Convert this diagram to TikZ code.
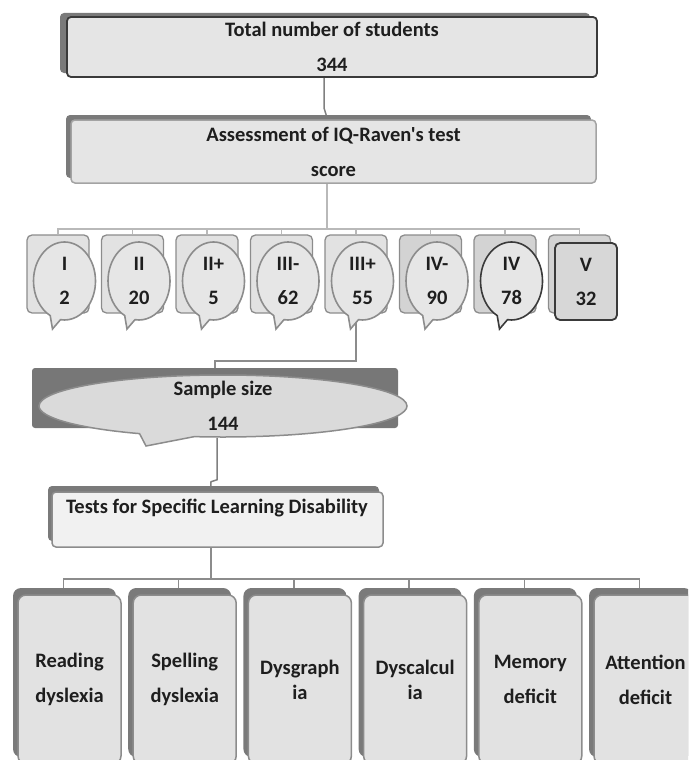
\documentclass[tikz,border=0pt]{standalone}
\usepackage{fontspec}
\setmainfont{Carlito}[Ligatures=TeXOff]
\usepackage{tikz, xcolor}
\usetikzlibrary{shapes,shadows,backgrounds}

\definecolor{inkgray}{HTML}{1E1E1E}
\definecolor{darkedge}{HTML}{3A3A3A}
\definecolor{edgegray}{HTML}{8C8C8C}
\definecolor{shadegray}{HTML}{7A7A7A}
\definecolor{boxfill}{HTML}{E5E5E5}
\definecolor{backfill}{HTML}{E2E2E2}
\definecolor{backdark}{HTML}{D3D3D3}
\definecolor{bubfill}{HTML}{E6E6E6}
\definecolor{samplegray}{HTML}{777777}
\definecolor{paperfill}{HTML}{F1F1F1}
\definecolor{busgray}{HTML}{B9B9B9}

\begin{document}
\begin{tikzpicture}[x=1pt, y=-1pt, text=inkgray, font=\fontsize{20.5}{35}\selectfont\bfseries]
\tikzstyle{headbox}=[rectangle, rounded corners=4pt, fill=boxfill, inner sep=0pt, align=center]
\tikzstyle{backbox}=[rectangle, rounded corners=5pt, draw=edgegray, line width=1.3pt, fill=backfill, minimum width=62pt, minimum height=78pt]
\tikzstyle{bubble}=[ellipse callout, draw=edgegray, line width=1.6pt, fill=bubfill, minimum width=62pt, minimum height=78pt, inner sep=0pt, align=center, callout pointer arc=20, font=\fontsize{20.5}{34}\selectfont\bfseries]
\tikzstyle{testbox}=[rectangle, rounded corners=8pt, draw=edgegray, line width=1.5pt, fill=backfill, minimum width=103pt, minimum height=169pt, inner sep=0pt, align=center, drop shadow={shadow xshift=-5pt, shadow yshift=7pt, fill=shadegray, opacity=1}]
\tikzstyle{linestyle}=[line width=1.5pt, draw=edgegray]
\tikzstyle{busstyle}=[line width=1.8pt, draw=busgray]

\useasboundingbox (0,0) rectangle (688,760);
\clip (0,0) rectangle (688,760);

% top of the tree
\node[headbox, draw=darkedge, line width=1.8pt, minimum width=530pt, minimum height=60pt, drop shadow={shadow xshift=-7pt, shadow yshift=4pt, fill=shadegray, opacity=1}] (H0x0) at (332,47) {Total number of students\\344};
\node[headbox, draw=edgegray!80, line width=1.5pt, minimum width=525pt, minimum height=63pt, drop shadow={shadow xshift=-5pt, shadow yshift=5pt, fill=shadegray, opacity=1}] (H0x1) at (333.5,151.5) {Assessment of IQ-Raven's test\\score};

% IQ levels
\node[backbox] (L0x0) at (58,274) {};
\node[bubble, callout absolute pointer={(52.5,329)}] (L0x1) at (64.5,281) {I\\2};
\node[backbox] (L1x0) at (132.5,274) {};
\node[bubble, callout absolute pointer={(127,329)}] (L1x1) at (139,281) {II\\20};
\node[backbox] (L2x0) at (207,274) {};
\node[bubble, callout absolute pointer={(201.5,329)}] (L2x1) at (213.5,281) {II+\\5};
\node[backbox] (L3x0) at (281.5,274) {};
\node[bubble, callout absolute pointer={(276,329)}] (L3x1) at (288,281) {III-\\62};
\node[backbox] (L4x0) at (356,274) {};
\node[bubble, callout absolute pointer={(350.5,329)}] (L4x1) at (362.5,281) {III+\\55};
\node[backbox, fill=backdark] (L5x0) at (430.5,274) {};
\node[bubble, callout absolute pointer={(425,329)}] (L5x1) at (437,281) {IV-\\90};
\node[backbox, fill=backdark] (L6x0) at (505,274) {};
\node[bubble, draw=darkedge, callout absolute pointer={(499.5,329)}] (L6x1) at (511.5,281) {IV\\78};
\node[backbox, fill=backdark] (L7x0) at (579.5,274) {};
\node[backbox, draw=darkedge, line width=1.8pt, fill=backdark!90!white, minimum height=77pt, align=center, font=\fontsize{20.5}{34}\selectfont\bfseries] (L7x1) at (586,281.5) {V\\32};

% sample
\node[rectangle, rounded corners=3pt, fill=samplegray, minimum width=366pt, minimum height=60pt] (S0x0) at (215,398) {};
\node[ellipse callout, draw=edgegray, line width=1.5pt, fill=bubfill!95!black, minimum width=368pt, minimum height=62pt, inner sep=0pt, callout absolute pointer={(146,446)}, callout pointer arc=18] (S0x1) at (223,406) {};
\node[align=center] (S0x1l) at (S0x1.center) {Sample size\\144};

% tests
\node[headbox, draw=edgegray, line width=1.5pt, fill=paperfill, minimum width=331pt, minimum height=55pt, drop shadow={shadow xshift=-4pt, shadow yshift=6pt, fill=shadegray, opacity=1}] (D0x0) at (217.5,519.5) {};
\node[anchor=base] (D0x0l) at (217,513) {Tests for Specific Learning Disability};
\node[testbox] (D0x1) at (69.5,679.5) {Reading\\dyslexia};
\node[testbox] (D1x1) at (184.7,679.5) {Spelling\\dyslexia};
\node[testbox, font=\fontsize{20.5}{25}\selectfont\bfseries] (D2x1) at (299.9,679.5) {Dysgraph\\ia};
\node[testbox, font=\fontsize{20.5}{25}\selectfont\bfseries] (D3x1) at (415.1,679.5) {Dyscalcul\\ia};
\node[testbox] (D4x1) at (530.3,679.5) {Memory\\deficit};
\node[testbox] (D5x1) at (645.5,679.5) {Attention\\deficit};

\coordinate (hub1) at (327,229);
\coordinate (hub2) at (211,579);

\begin{pgfonlayer}{background}
\draw[linestyle, draw=gray] ([xshift=-8pt]H0x0.south) -- ++(0,30) -- ([xshift=-6pt]H0x1.north);
\draw[busstyle] (H0x1.south -| hub1) -- (hub1);
\draw[busstyle] (hub1) -| (L0x0.north);
\draw[busstyle] (hub1) -| (L1x0.north);
\draw[busstyle] (hub1) -| (L2x0.north);
\draw[busstyle] (hub1) -| (L3x0.north);
\draw[busstyle] (hub1) -| (L4x0.north);
\draw[busstyle] (hub1) -| (L5x0.north);
\draw[busstyle] (hub1) -| (L6x0.north);
\draw[busstyle] (hub1) -| (L7x0.north);
\draw[linestyle] ([xshift=-6.5pt]L4x1.south) -- ++(0,40) -| (S0x0.north);
\draw[linestyle, draw=gray] ([xshift=-6pt]S0x1.south) -- ++(0,42) -- ++(-6,2) -- ([xshift=-7pt]D0x0.north);
\draw[linestyle] (D0x0.south -| hub2) -- (hub2);
\draw[linestyle] (hub2) -| ([xshift=-6pt]D0x1.north);
\draw[linestyle] (hub2) -| ([xshift=-6pt]D1x1.north);
\draw[linestyle] (hub2) -| ([xshift=-6pt]D2x1.north);
\draw[linestyle] (hub2) -| ([xshift=-6pt]D3x1.north);
\draw[linestyle] (hub2) -| ([xshift=-6pt]D4x1.north);
\draw[linestyle] (hub2) -| ([xshift=-6pt]D5x1.north);
\end{pgfonlayer}
\end{tikzpicture}
\end{document}
